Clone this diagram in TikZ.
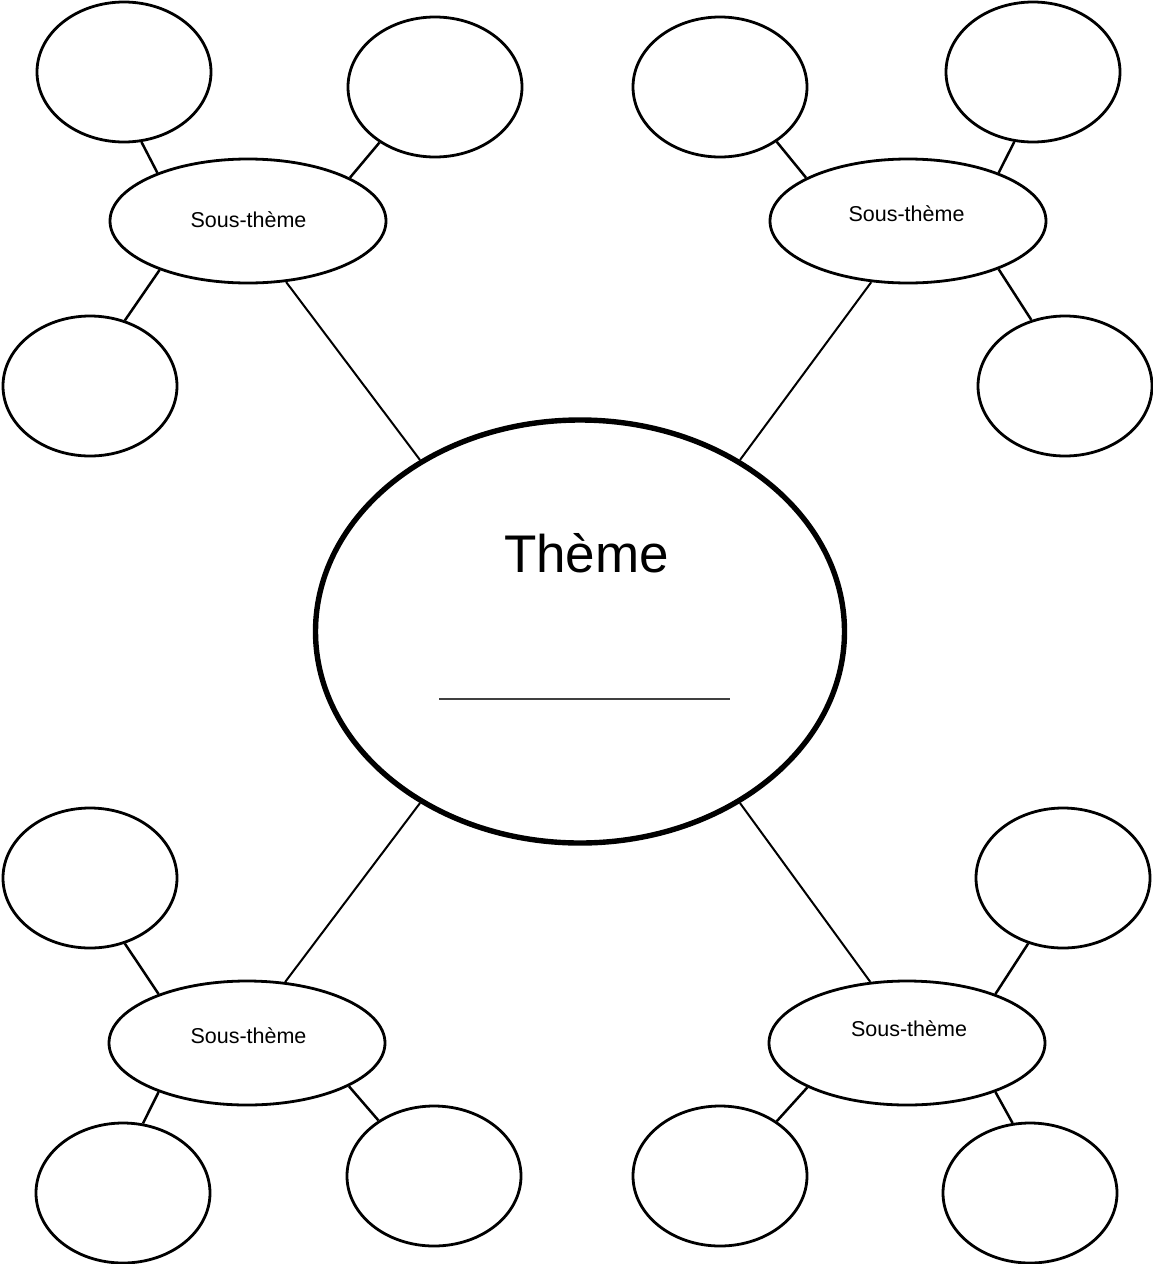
\documentclass[tikz,border=0pt]{standalone}
\usepackage{fontspec}
\setmainfont{Liberation Sans}
\usetikzlibrary{shapes.geometric}
\begin{document}
\begin{tikzpicture}[x=1pt,y=-1pt,
  bubble/.style={draw=black, line width=2.8pt, ellipse, minimum width=174pt, minimum height=140pt, inner sep=0pt},
  subbubble/.style={draw=black, line width=2.8pt, ellipse, minimum width=276pt, minimum height=124pt, inner sep=0pt},
  themebubble/.style={draw=black, line width=5.4pt, ellipse, minimum width=529pt, minimum height=423pt, inner sep=0pt},
  link/.style={draw=black, line width=2.5pt},
  longlink/.style={draw=black, line width=2pt},
  sublabel/.style={anchor=base, inner sep=0pt, font=\fontsize{21.5}{26}\selectfont},
  themelabel/.style={anchor=base, inner sep=0pt, font=\fontsize{53}{60}\selectfont},
]
\useasboundingbox (0,0) rectangle (1153,1264);

% central theme
\node[themebubble] (theme) at (580,631.5) {};
\node[themelabel] (themetxt) at (586.5,572) {Thème};
\coordinate (ul1) at (439,699);
\coordinate (ul2) at (730,699);
\draw[line width=2.2pt, black!75] (ul1) -- (ul2);

% top-left group
\node[subbubble] (t1) at (248,221) {};
\node[sublabel] (t1txt) at (248.5,227) {Sous-thème};
\node[bubble] (a) at (124,72) {};
\node[bubble] (b) at (435,87) {};
\node[bubble] (c) at (90,386) {};
\draw[link] (a.-76) -- (t1.152);
\draw[link] (b.-135) -- (t1.23);
\draw[link] (c.62) -- (t1.209);
\draw[longlink] (t1.-58) -- (theme.133);

% top-right group
\node[subbubble] (t2) at (908,221) {};
\node[sublabel] (t2txt) at (906.5,221) {Sous-thème};
\node[bubble] (l2) at (720,87) {};
\node[bubble] (d) at (1033,72) {};
\node[bubble] (e) at (1065,386) {};
\draw[link] (l2.-44) -- (t2.157);
\draw[link] (d.-105) -- (t2.28);
\draw[link] (e.117) -- (t2.-28);
\draw[longlink] (t2.-121) -- (theme.47);

% bottom-left group
\node[subbubble] (b1) at (247,1043) {};
\node[sublabel] (b1txt) at (248.5,1043) {Sous-thème};
\node[bubble] (i) at (90,878) {};
\node[bubble] (j) at (123,1193) {};
\node[bubble] (k) at (434,1176) {};
\draw[link] (i.-62) -- (b1.151);
\draw[link] (j.74) -- (b1.209);
\draw[link] (k.135) -- (b1.-23);
\draw[longlink] (b1.58) -- (theme.-133);

% bottom-right group
\node[subbubble] (b2) at (907,1043) {};
\node[sublabel] (b2txt) at (909,1036) {Sous-thème};
\node[bubble] (f) at (1063,878) {};
\node[bubble] (g) at (720,1176) {};
\node[bubble] (h) at (1030,1193) {};
\draw[link] (f.-118) -- (b2.29);
\draw[link] (g.44) -- (b2.204);
\draw[link] (h.104) -- (b2.-29);
\draw[longlink] (b2.121) -- (theme.-47);
\end{tikzpicture}
\end{document}
